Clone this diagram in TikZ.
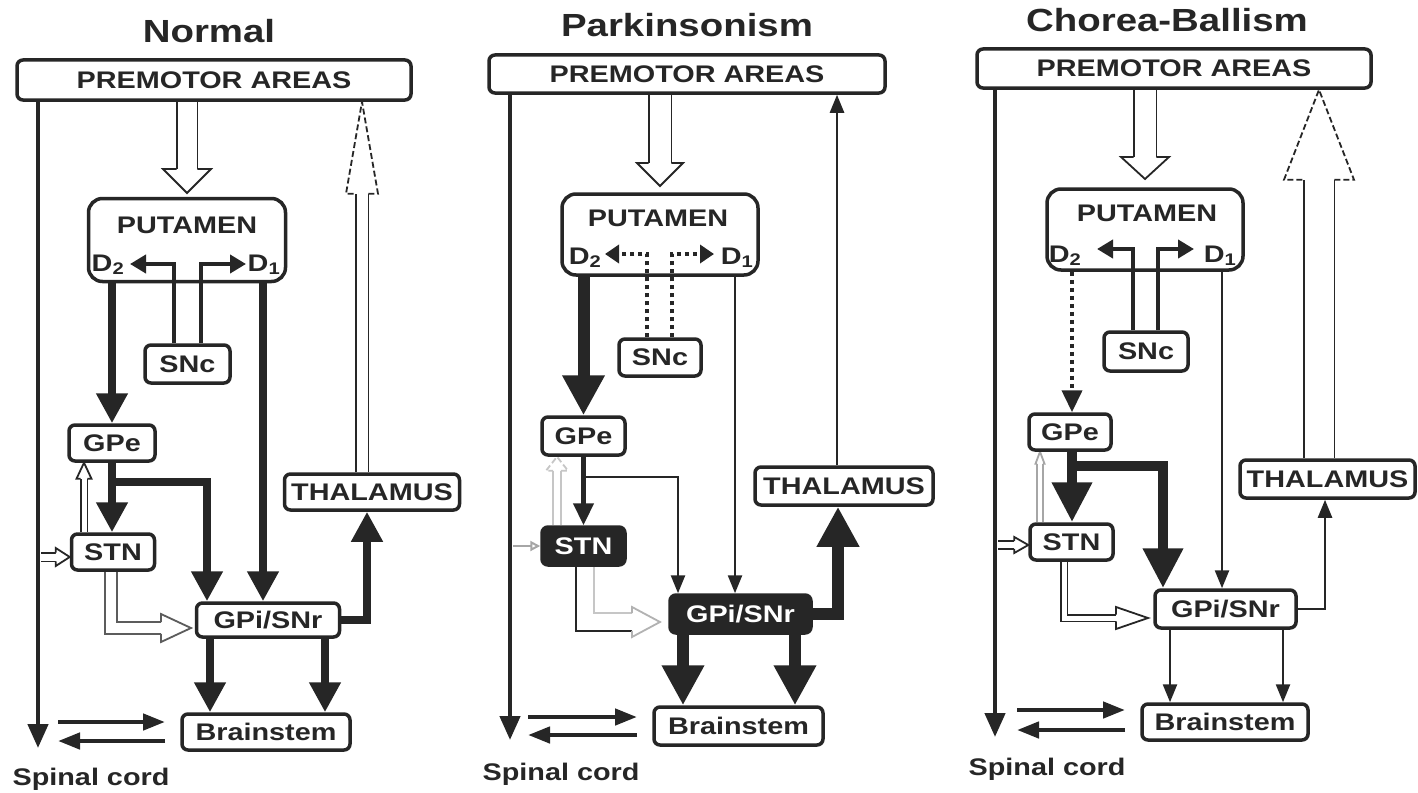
\documentclass[tikz,border=0pt]{standalone}
\usepackage{fontspec}
\setmainfont{Liberation Sans}[FakeStretch=1.2]
\usetikzlibrary{arrows.meta,calc,backgrounds}
\definecolor{ink}{HTML}{262626}
\newcommand{\lbl}{\fontsize{24}{26}\selectfont\bfseries}
\newcommand{\ttl}{\fontsize{32}{36}\selectfont\bfseries}

\tikzset{
  box/.style={draw=ink, line width=3.5pt, rounded corners=6pt, fill=white, inner sep=0pt, text=ink, font=\lbl},
  darkbox/.style={box, fill=ink, text=white},
  bigbox/.style={box, rounded corners=14pt, fill=none},
  txt/.style={inner sep=0pt, text=ink, font=\lbl},
  ttlnode/.style={inner sep=0pt, text=ink, font=\ttl, anchor=base},
  conn/.style={draw=ink, line join=miter},
  thinarr/.style={conn, line width=2.5pt, -{Triangle[width=14pt,length=18pt]}},
  medarr/.style={conn, line width=4.5pt, -{Triangle[width=20pt,length=22pt]}},
  thickarr/.style={conn, line width=8pt, -{Triangle[width=30pt,length=30pt]}},
  heavyarr/.style={conn, line width=12pt, -{Triangle[width=40pt,length=40pt]}},
  spine/.style={conn, line width=4.5pt, -{Triangle[width=20pt,length=24pt]}},
  reflex/.style={conn, line width=4.5pt, -{Triangle[width=16pt,length=22pt]}},
  dopa/.style={conn, line width=4.5pt, -{Triangle[width=18pt,length=16pt]}},
  dotline/.style={dash pattern=on 4pt off 4pt},
  hollowline/.style={draw=ink, line width=1.8pt, double=white, line join=miter},
  hollowhead/.style={draw=ink, line width=1.8pt, fill=white, line join=miter},
  headdash/.style={dash pattern=on 6pt off 3pt},
}

% open head of a block arrow: {style}{tip}{direction}{inner gap}{head width}{head length}
\newcommand{\hollowtip}[6]{%
  \draw[hollowhead, #1, shift={(#2)}, rotate=#3]
    (-#6, {#4/2+0.9}) -- (-#6, #5/2) -- (0,0) -- (-#6, -#5/2) -- (-#6, {-#4/2-0.9});}
% straight block arrow: {shaft style}{head style}{from}{tip}{direction}{inner gap}{head width}{head length}
\newcommand{\hollowarrow}[8]{%
  \draw[hollowline, double distance=#6pt, #1] (#3) -- ($(#4)!#8pt!(#3)$);
  \hollowtip{#1,#2}{#4}{#5}{#6}{#7}{#8}}

\begin{document}
\begin{tikzpicture}[x=1pt, y=-1pt]
\useasboundingbox (0,0) rectangle (1418,792);

% ---------------- Normal ----------------
\node[ttlnode] (a-title) at (209,43) {Normal};
\node[box, minimum width=394pt, minimum height=40pt] (a-pm) at (214,80) {PREMOTOR AREAS};
\node[bigbox, minimum width=197pt, minimum height=83pt] (a-put) at (187,240) {};
\node[txt] (a-putlbl) at (187,225) {PUTAMEN};
\node[txt, anchor=base] (a-d2) at (108,271) {D\textsubscript{2}};
\node[txt, anchor=base] (a-d1) at (264,271) {D\textsubscript{1}};
\node[box, minimum width=85pt, minimum height=38pt] (a-snc) at (187.5,364) {SNc};
\node[box, minimum width=86pt, minimum height=36pt] (a-gpe) at (112,443) {GPe};
\node[box, minimum width=83pt, minimum height=36pt] (a-stn) at (113,552) {STN};
\node[box, minimum width=143pt, minimum height=34pt] (a-gpi) at (268,620) {GPi/SNr};
\node[box, minimum width=175pt, minimum height=36pt] (a-thal) at (372,492) {THALAMUS};
\node[box, minimum width=168pt, minimum height=36pt] (a-bs) at (266,732) {Brainstem};
\node[txt, anchor=base] (a-sc) at (91,785) {Spinal cord};

% ---------------- Parkinsonism ----------------
\node[ttlnode] (b-title) at (687,37) {Parkinsonism};
\node[box, minimum width=396pt, minimum height=38pt] (b-pm) at (687,74) {PREMOTOR AREAS};
\node[bigbox, minimum width=196pt, minimum height=81pt] (b-put) at (660,234.5) {};
\node[txt] (b-putlbl) at (658,218) {PUTAMEN};
\node[txt, anchor=base] (b-d2) at (585,264) {D\textsubscript{2}};
\node[txt, anchor=base] (b-d1) at (737,264) {D\textsubscript{1}};
\node[box, minimum width=82pt, minimum height=37pt] (b-snc) at (660,357.5) {SNc};
\node[box, minimum width=83pt, minimum height=38pt] (b-gpe) at (583.5,436) {GPe};
\node[darkbox, minimum width=83pt, minimum height=38pt] (b-stn) at (583.5,546) {STN};
\node[darkbox, minimum width=141pt, minimum height=38pt] (b-gpi) at (740.5,614) {GPi/SNr};
\node[box, minimum width=178pt, minimum height=38pt] (b-thal) at (844,486) {THALAMUS};
\node[box, minimum width=169pt, minimum height=38pt] (b-bs) at (738.5,726) {Brainstem};
\node[txt, anchor=base] (b-sc) at (561,780) {Spinal cord};

% ---------------- Chorea-Ballism ----------------
\node[ttlnode] (c-title) at (1167,32) {Chorea-Ballism};
\node[box, minimum width=394pt, minimum height=39pt] (c-pm) at (1174,68.5) {PREMOTOR AREAS};
\node[bigbox, minimum width=196pt, minimum height=81pt] (c-put) at (1145,229.5) {};
\node[txt] (c-putlbl) at (1147,213) {PUTAMEN};
\node[txt, anchor=base] (c-d2) at (1065,262) {D\textsubscript{2}};
\node[txt, anchor=base] (c-d1) at (1220,262) {D\textsubscript{1}};
\node[box, minimum width=84pt, minimum height=39pt] (c-snc) at (1146,351.5) {SNc};
\node[box, minimum width=82pt, minimum height=36pt] (c-gpe) at (1070,432) {GPe};
\node[box, minimum width=83pt, minimum height=36pt] (c-stn) at (1071.5,542) {STN};
\node[box, minimum width=141pt, minimum height=38pt] (c-gpi) at (1225.5,609) {GPi/SNr};
\node[box, minimum width=175pt, minimum height=38pt] (c-thal) at (1327.5,479) {THALAMUS};
\node[box, minimum width=166pt, minimum height=36pt] (c-bs) at (1225,722) {Brainstem};
\node[txt, anchor=base] (c-sc) at (1047,775) {Spinal cord};

\begin{pgfonlayer}{background}
\fill[white] (0,0) rectangle (1418,792);

% ===== Normal: pathways =====
\coordinate (a-sp) at (38,748);
\draw[spine] (a-pm.south -| a-sp) -- (a-sp);
\coordinate (a-pt) at (187,193);
\hollowarrow{}{}{a-pm.south -| a-pt}{a-pt}{-90}{19}{48}{24}
\coordinate (a-x6) at (362,0);
\hollowarrow{}{headdash}{a-thal.north -| a-x6}{a-pm.south -| a-x6}{90}{11}{32}{92}
\coordinate (a-dl) at (174,264); \coordinate (a-d2t) at (130,264);
\coordinate (a-dr) at (201,264); \coordinate (a-d1t) at (246,264);
\draw[dopa] (a-snc.north -| a-dl) |- (a-d2t);
\draw[dopa] (a-snc.north -| a-dr) |- (a-d1t);
\draw[thickarr] (a-put.south -| a-gpe) -- (a-gpe.north);
\coordinate (a-x1) at (263,0);
\draw[thickarr] (a-put.south -| a-x1) -- (a-gpi.north -| a-x1);
\draw[thickarr] (a-gpe.south) -- (a-stn.north -| a-gpe);
\coordinate (a-j1) at (207,482);
\draw[thickarr] (a-gpe.south) |- (a-j1) -- (a-gpi.north -| a-j1);
\coordinate (a-x2) at (84,0);
\hollowarrow{}{}{a-stn.north -| a-x2}{a-gpe.south -| a-x2}{90}{5}{15}{16}
\coordinate (a-y1) at (41,557);
\hollowarrow{}{}{a-y1}{a-stn.west |- a-y1}{0}{7}{18}{14}
\coordinate (a-c1) at (111,628); \coordinate (a-t2) at (191,628); \coordinate (a-t2b) at (161,628);
\draw[hollowline, draw=ink!75, double distance=10pt] (a-stn.south -| a-c1) |- (a-t2b);
\hollowtip{draw=ink!75}{a-t2}{0}{10}{28}{30}
\coordinate (a-x3) at (210,0); \coordinate (a-x4) at (325,0);
\draw[thickarr] (a-gpi.south -| a-x3) -- (a-bs.north -| a-x3);
\draw[thickarr] (a-gpi.south -| a-x4) -- (a-bs.north -| a-x4);
\coordinate (a-x5) at (367,0);
\draw[thickarr] (a-gpi.east) -| (a-thal.south -| a-x5);
\coordinate (a-r1) at (58,722); \coordinate (a-r2) at (165,722);
\coordinate (a-r3) at (165,741); \coordinate (a-r4) at (58,741);
\draw[reflex] (a-r1) -- (a-r2);
\draw[reflex] (a-r3) -- (a-r4);

% ===== Parkinsonism: pathways =====
\coordinate (b-sp) at (510,740);
\draw[spine] (b-pm.south -| b-sp) -- (b-sp);
\coordinate (b-pt) at (660,186);
\hollowarrow{}{}{b-pm.south -| b-pt}{b-pt}{-90}{21}{46}{23}
\coordinate (b-x6) at (837,0);
\draw[thinarr] (b-thal.north -| b-x6) -- (b-pm.south -| b-x6);
\draw[heavyarr] (b-put.south -| b-gpe) -- (b-gpe.north);
\coordinate (b-dl) at (647,254); \coordinate (b-d2t) at (605,254);
\coordinate (b-dr) at (672,254); \coordinate (b-d1t) at (714,254);
\draw[dopa, dotline, -{Triangle[width=18pt,length=14pt]}] (b-snc.north -| b-dl) |- (b-d2t);
\draw[dopa, dotline, -{Triangle[width=18pt,length=14pt]}] (b-snc.north -| b-dr) |- (b-d1t);
\coordinate (b-x1) at (735,0);
\draw[thinarr] (b-put.south -| b-x1) -- (b-gpi.north -| b-x1);
\draw[medarr] (b-gpe.south) -- (b-stn.north);
\coordinate (b-j1) at (678,477);
\draw[thinarr] (b-gpe.south) |- (b-j1) -- (b-gpi.north -| b-j1);
\coordinate (b-x2) at (557,0);
\hollowarrow{draw=gray!45}{headdash}{b-stn.north -| b-x2}{b-gpe.south -| b-x2}{90}{6}{22}{14}
\coordinate (b-y1) at (513,546);
\draw[conn, draw=gray!70, line width=2pt, -{Triangle[open,width=10pt,length=10pt]}] (b-y1) -- (b-stn.west |- b-y1);
\coordinate (b-c1) at (585,622); \coordinate (b-t2) at (660,622); \coordinate (b-t2b) at (632,622);
\draw[hollowline, draw=gray!45, double distance=16pt] (b-stn.south -| b-c1) |- (b-t2b);
\coordinate (b-o1) at (576,631); \coordinate (b-o2) at (632,631);
\draw[conn, line width=2pt] (b-stn.south -| b-o1) |- (b-o2);
\hollowtip{draw=gray!60}{b-t2}{0}{16}{30}{28}
\coordinate (b-x3) at (683,0); \coordinate (b-x4) at (795,0);
\draw[heavyarr] (b-gpi.south -| b-x3) -- (b-bs.north -| b-x3);
\draw[heavyarr] (b-gpi.south -| b-x4) -- (b-bs.north -| b-x4);
\coordinate (b-x5) at (838,0);
\draw[heavyarr] (b-gpi.east) -| (b-thal.south -| b-x5);
\coordinate (b-r1) at (528,717); \coordinate (b-r2) at (637,717);
\coordinate (b-r3) at (637,735); \coordinate (b-r4) at (528,735);
\draw[reflex] (b-r1) -- (b-r2);
\draw[reflex] (b-r3) -- (b-r4);

% ===== Chorea-Ballism: pathways =====
\coordinate (c-sp) at (995,737);
\draw[spine] (c-pm.south -| c-sp) -- (c-sp);
\coordinate (c-pt) at (1145,179);
\hollowarrow{}{}{c-pm.south -| c-pt}{c-pt}{-90}{21}{48}{22}
\coordinate (c-x6) at (1319,0);
\hollowarrow{}{headdash}{c-thal.north -| c-x6}{c-pm.south -| c-x6}{90}{29}{70}{90}
\coordinate (c-dl) at (1133,249); \coordinate (c-d2t) at (1097,249);
\coordinate (c-dr) at (1158,249); \coordinate (c-d1t) at (1194,249);
\draw[dopa] (c-snc.north -| c-dl) |- (c-d2t);
\draw[dopa] (c-snc.north -| c-dr) |- (c-d1t);
\coordinate (c-x7) at (1072,0);
\draw[medarr, line width=4pt, dotline] (c-put.south -| c-x7) -- (c-gpe.north -| c-x7);
\coordinate (c-x1) at (1222,0);
\draw[thinarr] (c-put.south -| c-x1) -- (c-gpi.north -| c-x1);
\draw[heavyarr, line width=10pt, -{Triangle[width=38pt,length=40pt]}] (c-gpe.south -| c-x7) -- (c-stn.north -| c-x7);
\coordinate (c-j1) at (1163,466);
\draw[heavyarr, line width=10pt, -{Triangle[width=38pt,length=40pt]}] (c-gpe.south -| c-x7) |- (c-j1) -- (c-gpi.north -| c-j1);
\coordinate (c-x2) at (1040,0);
\hollowarrow{draw=gray!70}{}{c-stn.north -| c-x2}{c-gpe.south -| c-x2}{90}{4}{9}{12}
\coordinate (c-y1) at (998,545);
\hollowarrow{}{}{c-y1}{c-stn.west |- c-y1}{0}{6}{16}{14}
\coordinate (c-c1) at (1064,618); \coordinate (c-t2) at (1148,618); \coordinate (c-t2b) at (1116,618);
\draw[hollowline, double distance=5pt] (c-stn.south -| c-c1) |- (c-t2b);
\hollowtip{}{c-t2}{0}{5}{22}{32}
\coordinate (c-x3) at (1170,0); \coordinate (c-x4) at (1283,0);
\draw[thinarr] (c-gpi.south -| c-x3) -- (c-bs.north -| c-x3);
\draw[thinarr] (c-gpi.south -| c-x4) -- (c-bs.north -| c-x4);
\coordinate (c-x5) at (1325,0);
\draw[thinarr] (c-gpi.east) -| (c-thal.south -| c-x5);
\coordinate (c-r1) at (1017,710); \coordinate (c-r2) at (1125,710);
\coordinate (c-r3) at (1125,730); \coordinate (c-r4) at (1017,730);
\draw[reflex] (c-r1) -- (c-r2);
\draw[reflex] (c-r3) -- (c-r4);
\end{pgfonlayer}
\end{tikzpicture}
\end{document}
